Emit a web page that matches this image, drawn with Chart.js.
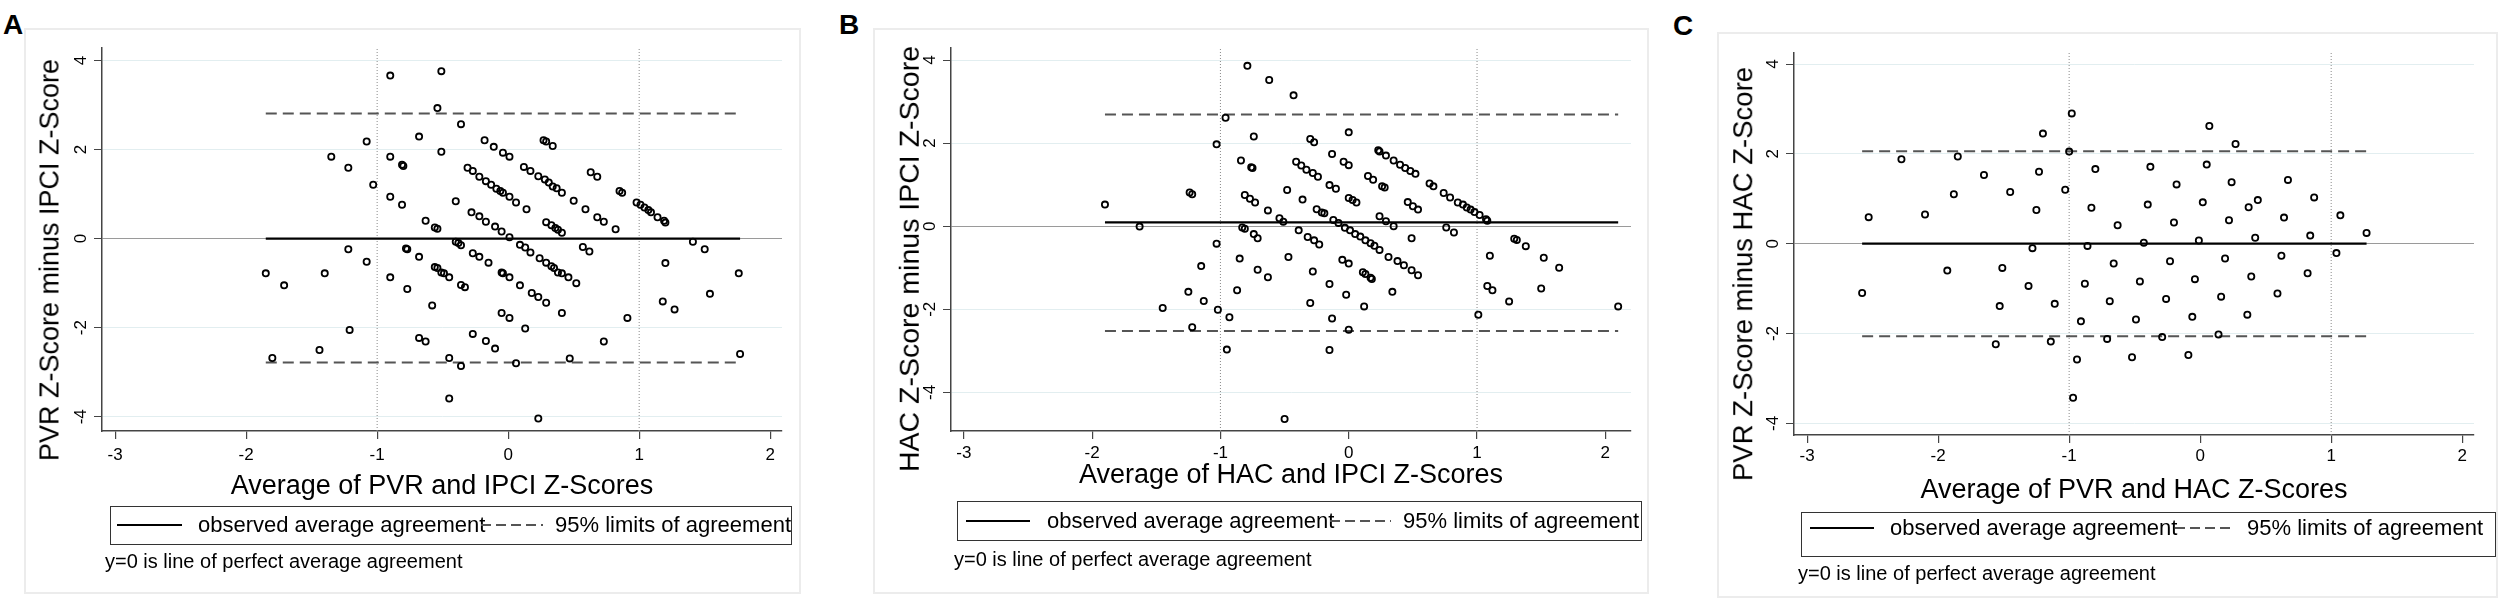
<!DOCTYPE html>
<html>
<head>
<meta charset="utf-8">
<script src="https://cdn.jsdelivr.net/npm/chart.js@4.4.1/dist/chart.umd.min.js"></script>
<style>
  html, body { margin: 0; padding: 0; background: #fff; }
  body { width: 2500px; height: 602px; position: relative; overflow: hidden;
         font-family: "Liberation Sans", Arial, sans-serif; color: #000; }
  .frame { position: absolute; border: 2px solid #ececec; box-sizing: border-box; }
  .plot { position: absolute; }
  .t { position: absolute; white-space: nowrap; line-height: 1; }
  .letter { font-weight: bold; font-size: 28px; }
  .ytitle { transform: translate(-50%, -50%) rotate(-90deg); }
  .xtitle { transform: translateX(-50%); font-size: 27px; }
  .legend { position: absolute; border: 1.5px solid #333; box-sizing: border-box; }
  .lg { font-size: 22px; transform: translateY(-50%); }
  .solid { position: absolute; height: 2px; background: #000; transform: translateY(-50%); }
  .dash { position: absolute; height: 2px; transform: translateY(-50%);
          background: repeating-linear-gradient(90deg, #555 0 10px, transparent 10px 15px); }
  .note { font-size: 20px; }
</style>
</head>
<body>

<div class="frame" style="left:24px;top:28px;width:777px;height:566px"></div>
<div class="frame" style="left:873px;top:28px;width:776px;height:566px"></div>
<div class="frame" style="left:1717px;top:32px;width:781px;height:566px"></div>

<div class="plot" style="left:24px;top:28px"><canvas id="chartA" width="777" height="566"></canvas></div>
<div class="plot" style="left:873px;top:28px"><canvas id="chartB" width="776" height="566"></canvas></div>
<div class="plot" style="left:1717px;top:32px"><canvas id="chartC" width="777" height="566"></canvas></div>

<div class="t letter" style="left:3px;top:11px">A</div>
<div class="t letter" style="left:839px;top:11px">B</div>
<div class="t letter" style="left:1673px;top:12px">C</div>

<div class="t ytitle" style="left:50px;top:260px;font-size:27px">PVR Z-Score minus IPCI Z-Score</div>
<div class="t ytitle" style="left:909px;top:259px;font-size:28.5px">HAC Z-Score minus IPCI Z-Score</div>
<div class="t ytitle" style="left:1743px;top:274px;font-size:27.5px">PVR Z-Score minus HAC Z-Score</div>

<div class="t xtitle" style="left:442px;top:472px">Average of PVR and IPCI Z-Scores</div>
<div class="t xtitle" style="left:1291px;top:461px">Average of HAC and IPCI Z-Scores</div>
<div class="t xtitle" style="left:2134px;top:476px">Average of PVR and HAC Z-Scores</div>

<div class="legend" style="left:110px;top:506px;width:682px;height:39px"></div>
<div class="solid" style="left:117px;top:525px;width:65px"></div>
<div class="t lg" style="left:198px;top:525px">observed average agreement</div>
<div class="dash" style="left:481px;top:525px;width:62px"></div>
<div class="t lg" style="left:555px;top:525px">95% limits of agreement</div>

<div class="legend" style="left:957px;top:501px;width:685px;height:40px"></div>
<div class="solid" style="left:966px;top:521px;width:64px"></div>
<div class="t lg" style="left:1047px;top:521px">observed average agreement</div>
<div class="dash" style="left:1330px;top:521px;width:61px"></div>
<div class="t lg" style="left:1403px;top:521px">95% limits of agreement</div>

<div class="legend" style="left:1801px;top:512px;width:695px;height:45px"></div>
<div class="solid" style="left:1810px;top:528px;width:64px"></div>
<div class="t lg" style="left:1890px;top:528px">observed average agreement</div>
<div class="dash" style="left:2175px;top:528px;width:60px"></div>
<div class="t lg" style="left:2247px;top:528px">95% limits of agreement</div>

<div class="t note" style="left:105px;top:551px">y=0 is line of perfect average agreement</div>
<div class="t note" style="left:954px;top:549px">y=0 is line of perfect average agreement</div>
<div class="t note" style="left:1798px;top:563px">y=0 is line of perfect average agreement</div>

<script>
// tick labels shared by the three panels
const xTicks = [-3, -2, -1, 0, 1, 2];
const yTicks = [-4, -2, 0, 2, 4];
const refX = [-1, 1];

// mean difference and 95% limits of agreement, panels A, B, C
const meanDiff = [0.00, 0.09, 0.00];
const upperLoa = [2.81, 2.69, 2.06];
const lowerLoa = [-2.78, -2.52, -2.06];

// A: PVR vs IPCI
const avgA = [-1.85, -1.71, -1.80, -1.44, -1.40, -1.35, -1.22, -1.22, -1.21, -1.08,
  -1.08, -1.03, -0.90, -0.90, -0.90, -0.90, -0.81, -0.80, -0.81, -0.78,
  -0.77, -0.77, -0.68, -0.68, -0.68, -0.63, -0.63, -0.58, -0.56, -0.54,
  -0.56, -0.54, -0.54, -0.51, -0.51, -0.51, -0.49, -0.45, -0.45, -0.45,
  -0.40, -0.40, -0.38, -0.36, -0.36, -0.36, -0.33, -0.36,
  -0.31, -0.27, -0.22, -0.17, -0.13, -0.09, -0.06, -0.04, 0.01, 0.06, 0.14,
  -0.28, -0.22, -0.17, -0.10, -0.05, 0.01,
  -0.27, -0.22, -0.15, -0.27,
  -0.18, -0.11, -0.04, 0.01, -0.17, -0.10,
  -0.05, -0.04, 0.01, -0.05, 0.01, 0.06,
  0.09, 0.13, 0.17, 0.24, 0.29, 0.33, 0.35, 0.09,
  0.12, 0.17, 0.23, 0.28, 0.31, 0.34, 0.37, 0.41,
  0.13, 0.18, 0.23, 0.29, 0.23, 0.27, 0.29, 0.34,
  0.29, 0.33, 0.36, 0.38, 0.41,
  0.38, 0.41, 0.46, 0.52, 0.41, 0.47, 0.50, 0.57, 0.62, 0.59,
  0.63, 0.68, 0.68, 0.73, 0.73, 0.82, 0.85, 0.87, 0.91,
  0.98, 1.01, 1.04, 1.07, 1.09, 1.14, 1.19, 1.20,
  1.18, 1.20, 1.27, 1.41, 1.50, 1.54, 1.76, 1.77];
const diffA = [-0.78, -1.05, -2.68, -2.50, -0.78, 1.84, 1.59, -0.24, -2.05, 2.18,
  -0.52, 1.21, 3.66, 1.84, 0.94, -0.87, 1.66, 1.63, 0.76, -0.22,
  -0.24, -1.13, 2.29, -0.41, -2.23, -2.31, 0.40, -1.50, 0.25, 0.22,
  -0.64, -0.66, 2.93, 3.76, 1.95, -0.76, -0.78, -0.87, -2.68, -3.59,
  0.84, -0.07, -0.10, -0.15, 2.57, -1.04, -1.09, -2.86,
  1.59, 1.52, 1.39, 1.29, 1.21, 1.12, 1.07, 1.03, 0.94, 0.81, 0.66,
  0.59, 0.50, 0.38, 0.27, 0.16, 0.03,
  -0.33, -0.41, -0.54, -2.14,
  2.21, 2.06, 1.93, 1.84, -2.30, -2.47,
  -0.76, -0.78, -0.87, -1.67, -1.78, -2.80,
  -0.14, -0.20, -0.31, -0.44, -0.54, -0.62, -0.66, -1.05,
  1.61, 1.52, 1.40, 1.33, 1.26, 1.17, 1.13, 1.03,
  -2.02, -1.22, -1.31, -1.44, -4.04, 2.21, 2.18, 2.08,
  0.37, 0.30, 0.24, 0.20, 0.13,
  -0.76, -0.78, -0.87, -1.00, -1.67, -2.69, 0.85, -0.19, -0.29, 0.66,
  1.49, 1.39, 0.48, 0.38, -2.31, 0.21, 1.07, 1.03, -1.78,
  0.81, 0.76, 0.70, 0.64, 0.59, 0.48, 0.40, 0.36,
  -1.41, -0.55, -1.59, -0.07, -0.24, -1.24, -0.78, -2.59];

// B: HAC vs IPCI
const avgB = [-1.90, -1.63, -1.45, -1.25, -1.24, -1.22, -1.22, -1.15, -1.13, -1.03,
  -1.03, -1.02, -0.96, -0.95, -0.93, -0.87, -0.85, -0.84, -0.83, -0.81,
  -0.81, -0.77, -0.73, -0.79, -0.76, -0.75, -0.74, -0.74, -0.71, -0.71,
  -0.63, -0.63, -0.62, -0.54, -0.51, -0.50, -0.48, -0.47, -0.43,
  -0.41, -0.37, -0.33, -0.28, -0.24, -0.39, -0.36, -0.32, -0.27, -0.23,
  -0.30, -0.27, -0.30, -0.28, -0.25, -0.21, -0.19, -0.15, -0.10,
  -0.15, -0.15, -0.13, -0.13, -0.12, -0.08, -0.04, 0.00, -0.05, 0.00,
  -0.03, 0.01, 0.05, 0.09, 0.13, 0.17, 0.20, 0.24,
  -0.02, 0.00, 0.00, 0.00, 0.03, 0.06,
  0.11, 0.13, 0.17, 0.18, 0.12, 0.15, 0.19,
  0.23, 0.24, 0.29, 0.24, 0.29, 0.35, 0.26, 0.28,
  0.31, 0.38, 0.43, 0.49, 0.54, 0.34,
  0.35, 0.40, 0.44, 0.48, 0.52, 0.46, 0.50, 0.54, 0.49, 0.63, 0.66,
  0.74, 0.79, 0.85, 0.89, 0.92, 0.95, 0.98, 1.02, 1.07, 1.08,
  0.76, 0.82, 1.01, 1.08, 1.12, 1.10, 1.25, 1.29, 1.31, 1.38,
  1.50, 1.52, 1.64, 2.10];
const diffB = [0.52, -0.01, -1.97, -1.58, 0.81, 0.77, -2.43, -0.96, -1.80, 1.97,
  -0.42, -2.01, 2.61, -2.97, -2.19, -1.54, -0.78, 1.58, -0.03, -0.06,
  0.75, 0.66, 0.57, 3.86, 1.42, 1.40, 2.16, -0.19, -0.29, -1.05,
  0.38, -1.23, 3.52, 0.19, 0.11, -4.64, 0.87, -0.74, 3.15,
  1.55, 1.46, 1.36, 1.28, 1.19, -0.10, 0.64, -0.26, -0.34, -0.44,
  2.10, 2.02, -1.85, -1.09, 0.41, 0.33, 0.31, 0.99, 0.90,
  -1.39, -2.98, 1.74, -2.22, 0.15, 0.08, 1.55, 1.47, -0.81, -0.90,
  -0.04, -0.10, -0.19, -0.25, -0.34, -0.41, -0.47, -0.57,
  -1.65, -2.49, 2.26, 0.68, 0.63, 0.57,
  -1.11, -1.15, -1.24, -1.27, -1.93, 1.21, 1.12,
  1.83, 1.80, 1.70, 0.24, 0.12, 0.00, 0.96, 0.93,
  -0.74, -0.84, -0.94, -1.06, -1.18, -1.58,
  1.58, 1.48, 1.40, 1.33, 1.26, 0.58, 0.48, 0.40, -0.29, 1.03, 0.96,
  0.80, 0.69, 0.57, 0.52, 0.45, 0.40, 0.34, 0.27, 0.17, 0.13,
  -0.03, -0.15, -2.13, -1.44, -1.54, -0.71, -1.81, -0.30, -0.33, -0.48,
  -1.50, -0.76, -1.00, -1.93];

// C: PVR vs HAC
const avgC = [-2.58, -2.53, -2.28, -2.10, -1.93, -1.88, -1.85, -1.65, -1.56, -1.53,
  -1.51, -1.45, -1.31, -1.28, -1.25, -1.23, -1.20, -1.14, -1.11, -1.03,
  -1.00, -0.98, -0.97, -0.94, -0.91, -0.88, -0.86, -0.83, -0.80, -0.71,
  -0.69, -0.66, -0.63, -0.52, -0.49, -0.46, -0.43, -0.40, -0.38, -0.29,
  -0.26, -0.23, -0.20, -0.18, -0.09, -0.06, -0.04, -0.01, 0.02, 0.05,
  0.07, 0.14, 0.16, 0.19, 0.22, 0.24, 0.27, 0.36, 0.37, 0.39,
  0.42, 0.44, 0.59, 0.62, 0.64, 0.67, 0.82, 0.84, 0.87, 1.04,
  1.07, 1.27];
const diffC = [-1.10, 0.59, 1.88, 0.65, -0.60, 1.10, 1.94, 1.53, -2.24, -1.39,
  -0.54, 1.15, -0.94, -0.10, 0.75, 1.60, 2.45, -2.18, -1.34, 1.20,
  2.05, 2.90, -3.43, -2.58, -1.73, -0.89, -0.05, 0.80, 1.66, -2.12,
  -1.28, -0.44, 0.41, -2.53, -1.69, -0.84, 0.02, 0.87, 1.71, -2.08,
  -1.23, -0.39, 0.47, 1.32, -2.48, -1.63, -0.79, 0.07, 0.92, 1.76,
  2.62, -2.02, -1.18, -0.33, 0.52, 1.37, 2.22, -1.58, 0.81, -0.73,
  0.13, 0.97, -1.11, -0.27, 0.58, 1.42, -0.66, 0.18, 1.03, -0.21,
  0.63, 0.24];

const tickLabels = {
  id: 'tickLabels',
  afterDraw(chart, args, opts) {
    const { ctx, chartArea, scales: { x, y } } = chart;
    ctx.save();
    ctx.fillStyle = '#000';
    ctx.font = '17px "Liberation Sans", Arial, sans-serif';
    ctx.textAlign = 'center';
    ctx.textBaseline = 'middle';
    xTicks.forEach(v => ctx.fillText(String(v), x.getPixelForValue(v), chartArea.bottom + opts.xGap));
    yTicks.forEach(v => {
      ctx.save();
      ctx.translate(chartArea.left - opts.yGap, y.getPixelForValue(v));
      ctx.rotate(-Math.PI / 2);
      ctx.fillText(String(v), 0, 0);
      ctx.restore();
    });
    ctx.restore();
  }
};

function flatLine(xs, level, color, width, dash) {
  return {
    data: [{ x: Math.min(...xs), y: level }, { x: Math.max(...xs), y: level }],
    showLine: true, borderColor: color, borderWidth: width, borderDash: dash,
    pointRadius: 0, order: 2
  };
}

function drawPanel(id, xs, ys, i, lay) {
  const points = xs.map((x, k) => ({ x, y: ys[k] }));
  const refLines = refX.map(v => ({
    data: [{ x: v, y: lay.yMin }, { x: v, y: lay.yMax }],
    showLine: true, borderColor: '#8a8a8a', borderWidth: 1, borderDash: [1, 2],
    pointRadius: 0, order: 3
  }));

  new Chart(document.getElementById(id), {
    type: 'scatter',
    data: {
      datasets: [
        { data: points, pointRadius: 3.1, borderWidth: 1.8, borderColor: '#000',
          backgroundColor: 'rgba(0,0,0,0)', order: 0 },
        flatLine(xs, meanDiff[i], '#000', 2.2, []),
        flatLine(xs, upperLoa[i], '#555', 2, [11, 6]),
        flatLine(xs, lowerLoa[i], '#555', 2, [11, 6]),
        ...refLines
      ]
    },
    plugins: [tickLabels],
    options: {
      responsive: false,
      animation: false,
      events: [],
      layout: { padding: { left: 0, top: lay.top, right: lay.right, bottom: 0 } },
      plugins: {
        legend: { display: false },
        tooltip: { enabled: false },
        tickLabels: { xGap: lay.xGap, yGap: lay.yGap }
      },
      scales: {
        x: {
          type: 'linear', min: -3.1, max: lay.xMax,
          afterBuildTicks: s => { s.ticks = xTicks.map(v => ({ value: v })); },
          afterFit: s => { s.height = 163; },
          ticks: { display: false },
          grid: { display: true, drawOnChartArea: false, tickLength: 8, tickColor: '#444', lineWidth: 1.2 },
          border: { display: true, color: '#444', width: 1.5 }
        },
        y: {
          type: 'linear', min: lay.yMin, max: lay.yMax,
          afterBuildTicks: s => { s.ticks = yTicks.map(v => ({ value: v })); },
          afterFit: s => { s.width = lay.left; },
          ticks: { display: false },
          grid: {
            color: c => (c.tick && c.tick.value === 0 ? '#9a9a9a' : '#e2eef0'),
            lineWidth: 1, tickLength: 8, tickColor: '#444'
          },
          border: { display: true, color: '#444', width: 1.5 }
        }
      }
    }
  });
}

drawPanel('chartA', avgA, diffA, 0, { left: 78, top: 20, right: 19, xMax: 2.09, yMin: -4.32, yMax: 4.28, xGap: 24, yGap: 21 });
drawPanel('chartB', avgB, diffB, 1, { left: 78, top: 20, right: 18, xMax: 2.20, yMin: -4.93, yMax: 4.29, xGap: 22, yGap: 21 });
drawPanel('chartC', avgC, diffC, 2, { left: 77, top: 21, right: 20, xMax: 2.09, yMin: -4.26, yMax: 4.245, xGap: 21, yGap: 20.5 });
</script>
</body>
</html>
